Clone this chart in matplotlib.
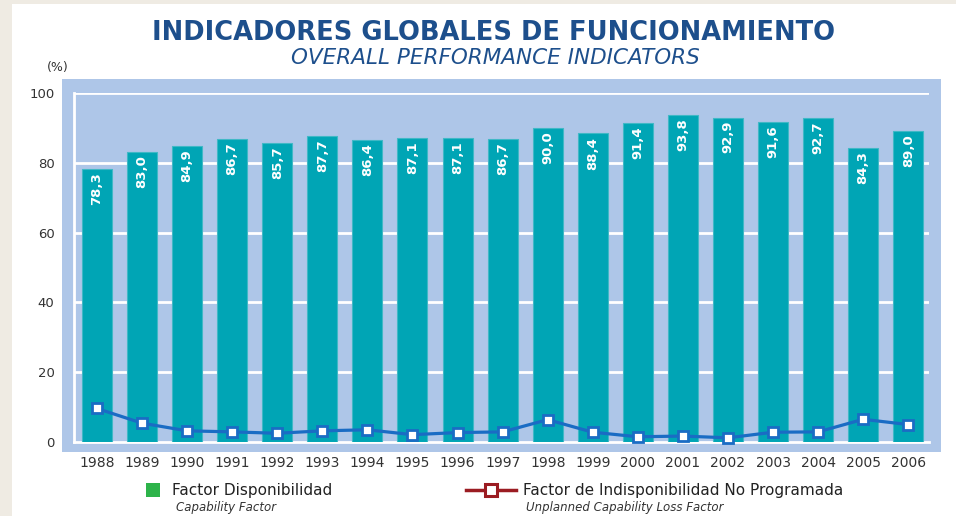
import matplotlib
matplotlib.use("Agg")
import matplotlib.pyplot as plt
from matplotlib.patches import Rectangle
from matplotlib.lines import Line2D
import numpy as np

years = ['1988', '1989', '1990', '1991', '1992', '1993', '1994', '1995', '1996', '1997',
         '1998', '1999', '2000', '2001', '2002', '2003', '2004', '2005', '2006']
capability = [78.3, 83.0, 84.9, 86.7, 85.7, 87.7, 86.4, 87.1, 87.1, 86.7,
              90.0, 88.4, 91.4, 93.8, 92.9, 91.6, 92.7, 84.3, 89.0]
loss = [9.6, 5.4, 3.2, 2.9, 2.5, 3.2, 3.5, 2.1, 2.7, 2.9,
        6.4, 2.8, 1.5, 1.7, 1.2, 2.8, 2.9, 6.5, 5.0]
yticks = [0, 20, 40, 60, 80, 100]

W, H = 956, 516
blue_bg = '#aec6e8'
teal = '#00a5b5'
line_blue = '#1a6cc4'
title_blue = '#1d4f8c'

fig = plt.figure(figsize=(W / 100, H / 100), dpi=100, facecolor='#efebe3')
# white page over the beige background photo
fig.patches.append(Rectangle((12 / W, 0), 1 - 12 / W, 1 - 4 / H, transform=fig.transFigure,
                             facecolor='white', edgecolor='none', zorder=-2))
# outer blue panel
fig.patches.append(Rectangle((62 / W, 1 - 452 / H), (941 - 62) / W, (452 - 79) / H,
                             transform=fig.transFigure, facecolor=blue_bg, edgecolor='none', zorder=-1))

ax = fig.add_axes([74 / W, 1 - 442 / H, (929 - 74) / W, (442 - 93) / H])
ax.set_facecolor(blue_bg)
x = np.arange(len(years))

for yv in yticks[1:]:
    ax.axhline(yv, color='white', lw=2, zorder=1)

bars = ax.bar(x, capability, width=0.665, color=teal, edgecolor='#40b8c6', linewidth=0.8, zorder=2)
for xi, v in zip(x, capability):
    ax.text(xi, v - 0.9, f'{v:.1f}'.replace('.', ','), rotation=90, ha='center', va='top',
            color='white', fontsize=9.5, fontweight='bold', zorder=3)

ax.plot(x, loss, color=line_blue, lw=2.3, marker='s', markersize=7, markerfacecolor='white',
        markeredgecolor=line_blue, markeredgewidth=2, zorder=4, clip_on=False)

ax.set_xlim(-0.51, 18.46)
ax.set_ylim(0, 100)
ax.set_xticks(x, years)
ax.set_yticks(yticks)
ax.tick_params(length=0, colors='#333333')
ax.tick_params(axis='x', pad=10, labelsize=10)
ax.tick_params(axis='y', pad=14, labelsize=9.5)
for s in ['top', 'right']:
    ax.spines[s].set_visible(False)
for s in ['left', 'bottom']:
    ax.spines[s].set_color('white')
    ax.spines[s].set_linewidth(2)
    ax.spines[s].set_zorder(1.5)

fig.text(493 / W, 1 - 33 / H, 'INDICADORES GLOBALES DE FUNCIONAMIENTO', ha='center', va='center',
         fontsize=18.5, fontweight='bold', color=title_blue)
fig.text(495 / W, 1 - 58 / H, 'OVERALL PERFORMANCE INDICATORS', ha='center', va='center',
         fontsize=15.5, fontstyle='italic', color=title_blue)
fig.text(58 / W, 1 - 68 / H, '(%)', ha='center', va='center', fontsize=9, color='#333333')

# legend
fig.patches.append(Rectangle((146 / W, 1 - 497 / H), 14 / W, 14 / H, transform=fig.transFigure,
                             facecolor='#2db34a', edgecolor='none', zorder=2))
fig.text(172 / W, 1 - 490 / H, 'Factor Disponibilidad', ha='left', va='center', fontsize=11, color='#222222')
fig.text(176 / W, 1 - 507 / H, 'Capability Factor', ha='left', va='center', fontsize=8.5,
         fontstyle='italic', color='#333333')
fig.lines.append(Line2D([466 / W, 516 / W], [1 - 490 / H, 1 - 490 / H], transform=fig.transFigure,
                        color='#9b1c22', lw=2.5, zorder=2))
fig.lines.append(Line2D([491 / W], [1 - 490 / H], transform=fig.transFigure, marker='s', markersize=9,
                        markerfacecolor='white', markeredgecolor='#9b1c22', markeredgewidth=2.2, zorder=3))
fig.text(523 / W, 1 - 490 / H, 'Factor de Indisponibilidad No Programada', ha='left', va='center',
         fontsize=11, color='#222222')
fig.text(526 / W, 1 - 507 / H, 'Unplanned Capability Loss Factor', ha='left', va='center', fontsize=8.5,
         fontstyle='italic', color='#333333')

fig.savefig('out.png', dpi=100, facecolor=fig.get_facecolor())
